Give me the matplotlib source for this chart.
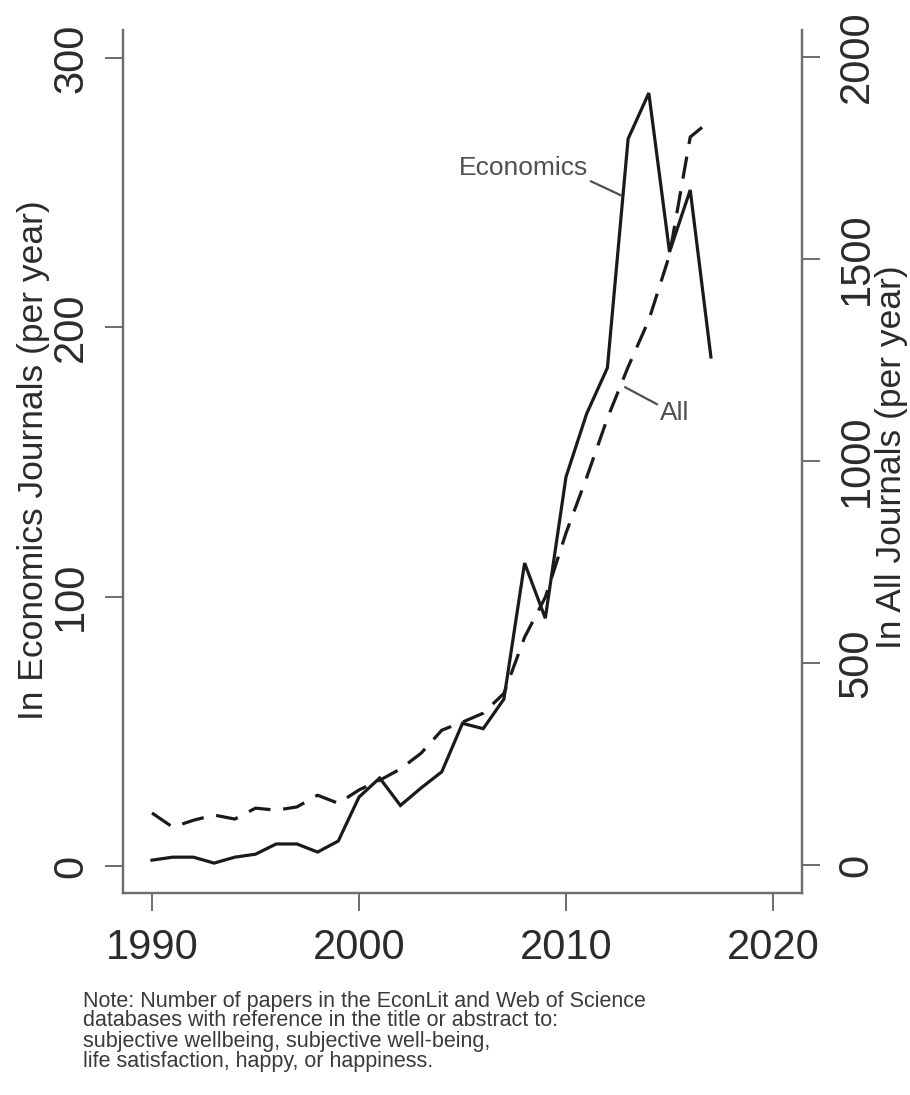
import matplotlib
matplotlib.use("Agg")
import matplotlib.pyplot as plt

years = list(range(1990, 2018))
econ = [2.2, 3.3, 3.3, 1.1, 3.3, 4.4, 8.2, 8.2, 5.2, 9.3, 25.6, 32.7, 22.5, 29,
        35, 53, 51, 62, 112.5, 92, 144.5, 168, 185, 270, 287, 228, 251, 189]
all_j = [129, 94, 111, 124, 114, 141, 136, 144, 173, 153, 186, 210, 238, 277,
         334, 354, 376, 425, 564, 663, 822, 960, 1106, 1233, 1349, 1510, 1802, 1844]

xticks = [1990, 2000, 2010, 2020]
left_ticks = [0, 100, 200, 300]
right_ticks = [0, 500, 1000, 1500, 2000]

plt.rcParams['font.family'] = ['Liberation Sans', 'DejaVu Sans']

W, H = 910, 1095
fig = plt.figure(figsize=(W / 100, H / 100), dpi=100)
fig.patch.set_facecolor('white')
ax = fig.add_axes([123 / W, 1 - 893 / H, (802 - 123) / W, (893 - 30) / H])
ax2 = ax.twinx()

line_col = '#1a1a1a'
spine_col = '#6e6e6e'
text_col = '#2b2b2b'

ax.plot(years, econ, color=line_col, lw=2.3, solid_joinstyle='miter', zorder=3)
ax2.plot(years, all_j, color=line_col, lw=2.3, linestyle=(0, (7, 4)), zorder=3)

ax.set_xlim(1988.6, 2021.4)
ax.set_ylim(-10, 310.4)
ax2.set_ylim(-69, 2067)

ax.set_xticks(xticks)
ax.set_yticks(left_ticks)
ax2.set_yticks(right_ticks)

for a in (ax, ax2):
    a.spines['top'].set_visible(False)
    for s in ('left', 'right', 'bottom'):
        a.spines[s].set_color(spine_col)
        a.spines[s].set_linewidth(1.6)
    a.tick_params(axis='both', direction='out', length=13, width=1.4,
                  color=spine_col, labelsize=30, labelcolor=text_col)

ax.tick_params(axis='x', pad=12)
ax.tick_params(axis='y', pad=10)
ax2.tick_params(axis='y', pad=12)
for lab in ax.get_yticklabels():
    lab.set_rotation(90)
    lab.set_va('center')
for lab in ax2.get_yticklabels():
    lab.set_rotation(90)
    lab.set_va('center')

fig.text(17 / W, 1 - 460 / H, 'In Economics Journals (per year)', rotation=90,
         ha='left', va='center', fontsize=25.5, color=text_col)
fig.text(875 / W, 1 - 457 / H, 'In All Journals (per year)', rotation=90,
         ha='left', va='center', fontsize=25.5, color=text_col)

ax.annotate('Economics', xy=(2012.66, 249), xytext=(2011.06, 259.2),
            ha='right', va='center', fontsize=19, color='#505050',
            arrowprops=dict(arrowstyle='-', color='#505050', lw=1.6,
                            relpos=(1.0, 0.0), shrinkA=0, shrinkB=0))
ax2.annotate('All', xy=(2012.85, 1183), xytext=(2014.54, 1119),
             ha='left', va='center', fontsize=19, color='#505050',
             arrowprops=dict(arrowstyle='-', color='#505050', lw=1.6,
                             relpos=(0.0, 0.8), shrinkA=0, shrinkB=0))

note = ["Note: Number of papers in the EconLit and Web of Science",
        "databases with reference in the title or abstract to:",
        "subjective wellbeing, subjective well-being,",
        "life satisfaction, happy, or happiness."]
for i, t in enumerate(note):
    fig.text(83 / W, 1 - (1001 + i * 20) / H, t, ha='left', va='center',
             fontsize=15.5, color='#3a3a3a')

fig.savefig('out.png', dpi=100, facecolor='white')
